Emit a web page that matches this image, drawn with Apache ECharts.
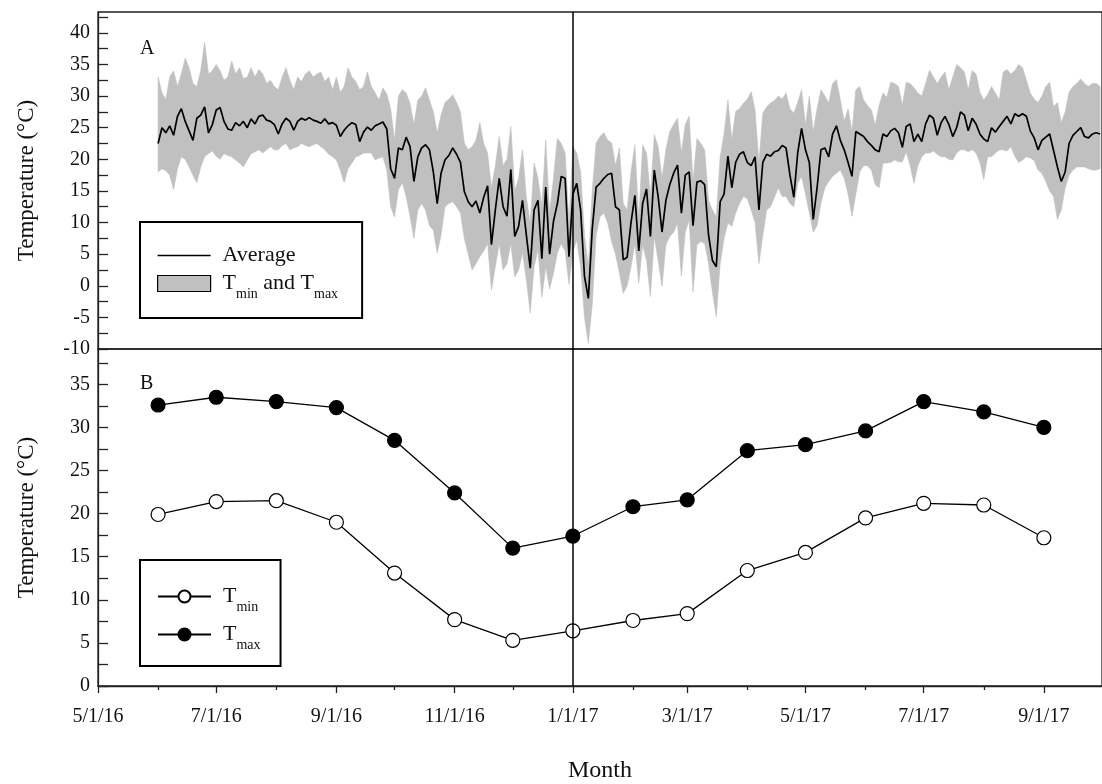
<!DOCTYPE html>
<html><head><meta charset="utf-8">
<script src="https://cdn.jsdelivr.net/npm/echarts@6/dist/echarts.min.js"></script>
<style>html,body{margin:0;padding:0;background:#fff}#c{width:1102px;height:784px}</style>
</head><body><div id="c"></div>
<script>
// ---------- data ----------
const xTickDates  = ['2016-05-01','2016-07-01','2016-09-01','2016-11-01','2017-01-01','2017-03-01','2017-05-01','2017-07-01','2017-09-01'];
const xTickLabels = ['5/1/16','7/1/16','9/1/16','11/1/16','1/1/17','3/1/17','5/1/17','7/1/17','9/1/17'];
const xMinorDates = ['2016-06-01','2016-08-01','2016-10-01','2016-12-01','2017-02-01','2017-04-01','2017-06-01','2017-08-01'];
const xRange = ['2016-05-01','2017-10-01'];
const markDate = '2017-01-01';

const yTopLabels = [-10,-5,0,5,10,15,20,25,30,35,40];
const yTopTicks  = [-10,-7.5,-5,-2.5,0,2.5,5,7.5,10,12.5,15,17.5,20,22.5,25,27.5,30,32.5,35,37.5,40,42.5];
const yBotLabels = [0,5,10,15,20,25,30,35];
const yBotTicks  = [0,2.5,5,7.5,10,12.5,15,17.5,20,22.5,25,27.5,30,32.5,35,37.5];

// Panel B: monthly means
const monthDates = ['2016-06-01','2016-07-01','2016-08-01','2016-09-01','2016-10-01','2016-11-01','2016-12-01','2017-01-01',
                    '2017-02-01','2017-03-01','2017-04-01','2017-05-01','2017-06-01','2017-07-01','2017-08-01','2017-09-01'];
const monthTmin = [19.9,21.4,21.5,19.0,13.1,7.7,5.3,6.4,7.6,8.4,13.4,15.5,19.5,21.2,21.0,17.2];
const monthTmax = [32.6,33.5,33.0,32.3,28.5,22.4,16.0,17.4,20.8,21.6,27.3,28.0,29.6,33.0,31.8,30.0];

// Panel A: daily series, read every 2nd day starting 6/1/16
const dailyStart = '2016-06-01';
const dailyStepDays = 2;
const dailyAvg = [
22.5,25.0,24.2,25.3,23.8,26.8,28.0,26.0,24.5,23.0,
26.5,27.0,28.3,24.2,25.5,27.8,28.2,26.0,24.8,24.6,
25.8,25.3,26.0,25.0,26.4,25.6,26.8,27.0,26.2,26.0,
25.5,24.0,25.6,26.5,26.0,24.6,26.0,26.5,26.2,26.6,
26.2,26.0,25.7,26.4,25.6,25.8,25.4,23.6,24.6,25.3,
25.8,25.5,22.8,24.3,25.1,24.6,25.3,25.6,25.9,24.8,
18.5,17.0,21.8,21.5,23.5,22.0,16.5,20.4,21.8,22.3,
21.5,18.0,13.0,17.8,19.9,20.6,21.8,20.8,19.5,14.9,
13.3,12.5,13.4,11.5,14.0,15.8,6.5,12.0,17.0,12.5,
11.0,18.4,7.8,9.4,13.5,8.0,2.8,12.0,13.5,4.3,
15.6,5.0,10.2,13.0,17.3,17.0,4.6,14.5,16.2,12.0,
1.5,-2.0,9.0,15.6,16.2,17.0,17.6,17.8,12.5,12.0,
4.1,4.5,10.0,14.3,5.5,13.0,15.3,7.8,18.3,14.1,
8.5,13.5,16.0,17.8,19.1,11.5,17.5,18.0,9.5,16.4,
16.6,16.0,8.0,4.0,3.0,13.3,14.5,20.5,15.5,19.5,
20.8,21.2,19.5,19.0,20.4,12.0,19.5,20.8,20.5,21.2,
21.4,22.2,21.8,17.5,14.0,21.0,24.9,21.5,19.5,10.5,
15.5,21.5,21.8,20.4,24.0,25.3,23.0,21.5,19.5,17.3,
24.4,24.0,23.6,22.8,22.2,21.5,21.2,24.0,23.6,24.5,
24.9,24.2,21.9,25.2,25.6,22.8,24.0,22.8,25.6,27.0,
26.5,23.8,25.8,26.8,25.5,23.6,25.0,27.5,27.0,24.5,
26.5,25.6,24.0,23.2,22.8,25.0,24.3,25.2,26.0,26.8,
25.6,27.2,26.8,27.2,26.8,24.5,23.4,21.5,23.0,23.5,
24.0,21.4,18.8,16.5,18.0,22.5,23.8,24.4,25.0,23.6,
23.4,24.0,24.2,24.0];
const dailyTmax = [
33.0,30.5,29.5,33.0,34.0,31.5,33.5,36.0,34.5,32.0,
31.5,34.0,38.5,33.5,34.0,35.0,34.0,32.5,33.0,35.5,
33.5,34.5,32.8,33.0,34.5,33.0,34.2,33.5,32.0,32.5,
31.5,31.0,33.0,34.5,32.5,31.0,33.0,32.3,33.5,34.0,
33.0,33.5,33.8,32.3,33.0,31.0,33.0,30.6,31.5,34.5,
33.0,32.3,31.0,31.5,33.8,31.5,30.5,29.4,31.3,30.3,
28.0,23.0,30.0,31.0,30.5,28.8,25.5,29.4,30.0,31.3,
29.4,27.5,24.2,27.0,29.0,29.5,30.2,29.0,27.5,22.6,
21.5,22.0,23.0,25.8,22.5,21.0,15.5,19.0,23.6,19.0,
20.0,25.2,15.0,17.0,21.5,14.0,9.9,19.4,17.0,12.5,
23.1,11.5,17.0,23.3,22.5,21.0,10.0,22.0,21.0,18.0,
8.0,3.0,15.0,22.6,23.6,24.2,23.0,22.6,19.0,21.8,
13.0,12.0,18.0,22.3,10.5,22.3,21.0,14.1,23.9,22.0,
17.0,21.5,24.4,25.5,26.5,21.0,25.5,26.8,16.4,23.3,
22.5,21.5,13.5,12.0,10.9,20.4,24.0,29.4,23.1,27.6,
28.0,28.9,29.5,30.7,27.8,19.4,27.3,28.3,28.9,29.3,
30.0,29.5,30.5,28.0,27.3,29.0,31.0,25.4,30.0,24.4,
28.0,31.0,30.0,28.9,32.0,32.6,29.4,26.0,28.0,24.4,
31.0,31.5,29.4,28.5,27.8,25.4,28.5,30.5,29.8,32.2,
32.0,31.5,28.5,32.2,32.0,31.3,30.5,30.0,32.0,34.1,
33.0,32.0,33.0,33.8,31.0,33.0,35.0,34.5,33.8,31.0,
34.0,33.5,30.6,29.4,30.2,31.5,30.5,29.4,33.8,34.2,
33.5,34.0,35.0,34.5,32.5,30.5,29.5,29.0,30.0,31.5,
32.2,28.3,29.0,25.8,27.5,30.6,31.5,32.0,32.7,32.0,
31.5,32.0,32.0,31.5];
const dailyTmin = [
18.0,18.5,18.2,17.5,15.2,18.5,20.4,20.0,18.8,17.5,
16.3,18.8,20.4,20.9,21.3,20.5,20.0,20.9,20.6,20.4,
19.9,19.4,18.8,19.9,20.9,21.2,21.5,21.0,21.5,22.0,
21.5,21.5,22.2,22.5,21.5,21.8,22.0,22.5,22.2,22.0,
22.3,22.5,22.0,21.5,20.8,20.4,19.9,18.3,16.3,18.5,
19.4,20.4,20.6,21.0,21.0,21.0,19.9,20.2,20.4,18.3,
12.5,10.9,15.2,16.3,14.1,11.0,7.5,12.0,13.0,12.0,
9.5,8.8,5.2,8.0,12.5,13.0,13.3,12.5,11.5,7.5,
5.0,2.5,3.5,4.6,5.5,6.7,-0.7,3.0,6.7,2.5,
3.5,6.7,1.4,2.5,5.2,1.0,-4.3,3.0,5.7,-1.8,
3.0,-0.5,2.0,5.2,6.7,5.5,0.2,5.5,7.2,3.0,
-5.0,-9.1,-3.0,8.0,10.9,11.5,9.9,7.0,5.0,2.0,
-1.2,0.0,3.0,6.7,0.4,6.5,4.0,-1.7,7.8,4.0,
-0.1,6.5,7.8,8.5,9.9,1.5,8.5,10.4,-1.0,6.5,
7.0,6.7,3.5,-1.0,-4.9,3.5,7.5,9.9,9.4,11.5,
13.0,14.1,13.8,12.0,10.0,3.5,8.0,12.0,12.5,14.0,
15.5,14.1,14.1,13.0,12.5,16.2,17.3,14.5,11.5,8.5,
9.5,13.1,15.5,16.5,17.3,17.8,18.3,17.0,14.5,11.0,
14.5,18.0,19.0,19.0,18.3,16.0,15.5,19.4,19.4,19.5,
19.9,19.6,19.6,21.2,19.0,16.2,19.0,20.4,21.0,21.0,
21.3,20.8,20.4,20.4,20.0,19.9,21.0,21.5,21.5,21.2,
21.5,21.0,19.5,16.8,20.4,20.4,21.0,21.5,21.5,21.3,
22.0,20.5,19.5,19.9,20.4,20.2,19.8,18.3,17.8,16.5,
15.0,14.1,10.5,12.0,15.5,17.5,18.3,18.8,18.8,18.8,
18.5,18.3,18.3,18.5];

// ---------- build ----------
const FONT = "'Liberation Serif', 'DejaVu Serif', serif";
function ts(s){ const p = s.split('-').map(Number); return Date.UTC(p[0], p[1]-1, p[2]); }
const DAY = 86400000;
const t0 = ts(dailyStart);
const dayTs = i => t0 + i * dailyStepDays * DAY;
const avgData  = dailyAvg.map((v,i) => [dayTs(i), v]);
const bandData = dailyTmin.map((v,i) => [dayTs(i), v, dailyTmax[i]]);
const tickTs = xTickDates.map(ts);
const minorTs = xMinorDates.map(ts);
const mTs = monthDates.map(ts);
const xMin = ts(xRange[0]), xMax = ts(xRange[1]);

const axisColor = '#222';
const BAND = '#c0c0c0';
const lab = {fontFamily: FONT, fontSize: 20, color: '#111'};
const richLeg = {
  t: {fontFamily: FONT, fontSize: 22, color: '#111', lineHeight: 23, verticalAlign: 'top'},
  s: {fontFamily: FONT, fontSize: 14, color: '#111', lineHeight: 14, padding: [15,0,0,0], verticalAlign: 'top'}
};

const chart = echarts.init(document.getElementById('c'), null, {renderer: 'canvas'});
chart.setOption({
  animation: false,
  backgroundColor: '#fff',
  title: [
    {text: 'A', left: 140, top: 39, padding: 0, textStyle: {fontFamily: FONT, fontSize: 20, fontWeight: 'normal', color: '#111'}},
    {text: 'B', left: 140, top: 374, padding: 0, textStyle: {fontFamily: FONT, fontSize: 20, fontWeight: 'normal', color: '#111'}}
  ],
  grid: [
    {left: 98, right: -9, top: 12, height: 337, show: true, borderColor: axisColor, borderWidth: 1.3, backgroundColor: 'transparent'},
    {left: 98, right: -9, top: 349, height: 339, show: true, borderColor: axisColor, borderWidth: 1.3, backgroundColor: 'transparent'}
  ],
  legend: [
    {
      orient: 'vertical', left: 140, top: 222, selectedMode: false,
      borderColor: '#000', borderWidth: 2, padding: [22, 24, 17, 17],
      itemWidth: 53, itemHeight: 16, itemGap: 6, symbolKeepAspect: true,
      data: [
        {name: 'Average', icon: 'path://M0,0L100,0L100,3.2L0,3.2Z', itemStyle: {color: '#000'}},
        {name: 'Tmin and Tmax', icon: 'rect', itemStyle: {color: BAND, borderColor: '#000', borderWidth: 1.2}}
      ],
      textStyle: {rich: richLeg, padding: [0,0,0,7]},
      formatter: n => n === 'Average' ? '{t|Average}' : '{t|T}{s|min}{t| and T}{s|max}'
    },
    {
      orient: 'vertical', left: 140, top: 560, selectedMode: false,
      borderColor: '#000', borderWidth: 2, padding: [25, 20, 14, 17],
      itemWidth: 53, itemHeight: 15, itemGap: 9,
      data: ['Tmin', 'Tmax'],
      textStyle: {rich: richLeg, padding: [0,0,0,7]},
      formatter: n => n === 'Tmin' ? '{t|T}{s|min}' : '{t|T}{s|max}'
    }
  ],
  xAxis: [
    {gridIndex: 0, type: 'value', min: xMin, max: xMax, show: false},
    {
      gridIndex: 1, type: 'value', position: 'bottom', min: xMin, max: xMax,
      name: 'Month', nameLocation: 'middle', nameGap: 73,
      nameTextStyle: {fontFamily: FONT, fontSize: 24, color: '#111'},
      axisLine: {show: true, lineStyle: {color: axisColor, width: 1.3}},
      axisTick: {show: true, inside: false, length: 7, customValues: tickTs, lineStyle: {color: axisColor, width: 1.3}},
      axisLabel: {show: true, margin: 21, customValues: tickTs, ...lab,
        formatter: v => { const i = tickTs.indexOf(v); return i >= 0 ? xTickLabels[i] : ''; }},
      splitLine: {show: false}
    },
    {
      gridIndex: 1, type: 'value', position: 'bottom', offset: 0, min: xMin, max: xMax,
      axisLine: {show: false},
      axisTick: {show: true, inside: false, length: 4, customValues: minorTs, lineStyle: {color: axisColor, width: 1.3}},
      axisLabel: {show: false},
      splitLine: {show: false}
    }
  ],
  yAxis: [
    {
      gridIndex: 0, type: 'value', min: -10, max: 43.3,
      name: 'Temperature (°C)', nameLocation: 'middle', nameGap: 60,
      nameTextStyle: {fontFamily: FONT, fontSize: 23, color: '#111'},
      axisLine: {show: true, lineStyle: {color: axisColor, width: 1.3}},
      axisTick: {show: true, inside: true, length: 10, customValues: yTopTicks, lineStyle: {color: axisColor, width: 1.3}},
      axisLabel: {show: true, margin: 8, customValues: yTopLabels, ...lab},
      splitLine: {show: false}
    },
    {
      gridIndex: 1, type: 'value', min: 0, max: 39.1,
      name: 'Temperature (°C)', nameLocation: 'middle', nameGap: 60,
      nameTextStyle: {fontFamily: FONT, fontSize: 23, color: '#111'},
      axisLine: {show: true, lineStyle: {color: axisColor, width: 1.3}},
      axisTick: {show: true, inside: true, length: 10, customValues: yBotTicks, lineStyle: {color: axisColor, width: 1.3}},
      axisLabel: {show: true, margin: 8, customValues: yBotLabels, ...lab},
      splitLine: {show: false}
    }
  ],
  series: [
    {
      name: 'Tmin and Tmax', type: 'custom', xAxisIndex: 0, yAxisIndex: 0, data: bandData,
      encode: {x: 0, y: [1, 2]}, itemStyle: {color: BAND}, silent: true, z: 1, clip: true,
      renderItem: (params, api) => {
        if (params.dataIndex !== 0) return null;
        const up = bandData.map(d => api.coord([d[0], d[2]]));
        const lo = bandData.map(d => api.coord([d[0], d[1]])).reverse();
        return {type: 'polygon', shape: {points: up.concat(lo)}, style: {fill: BAND, stroke: BAND, lineWidth: 0.6}};
      }
    },
    {
      name: 'Average', type: 'line', xAxisIndex: 0, yAxisIndex: 0, data: avgData,
      symbol: 'none', itemStyle: {color: '#000'}, lineStyle: {color: '#000', width: 1.7}, z: 3,
      markLine: {silent: true, symbol: 'none', label: {show: false},
        lineStyle: {color: '#000', width: 1.5, type: 'solid'}, data: [{xAxis: ts(markDate)}]}
    },
    {
      name: 'Tmin', type: 'line', xAxisIndex: 1, yAxisIndex: 1,
      data: monthTmin.map((v,i) => [mTs[i], v]),
      symbol: 'circle', symbolSize: 14,
      itemStyle: {color: '#fff', borderColor: '#000', borderWidth: 1.2},
      lineStyle: {color: '#000', width: 1.3}, z: 4,
      markLine: {silent: true, symbol: 'none', label: {show: false},
        lineStyle: {color: '#000', width: 1.5, type: 'solid'}, data: [{xAxis: ts(markDate)}]}
    },
    {
      name: 'Tmax', type: 'line', xAxisIndex: 1, yAxisIndex: 1,
      data: monthTmax.map((v,i) => [mTs[i], v]),
      symbol: 'circle', symbolSize: 14,
      itemStyle: {color: '#000', borderColor: '#000', borderWidth: 1.2},
      lineStyle: {color: '#000', width: 1.3}, z: 5
    }
  ]
});
</script>
</body></html>
